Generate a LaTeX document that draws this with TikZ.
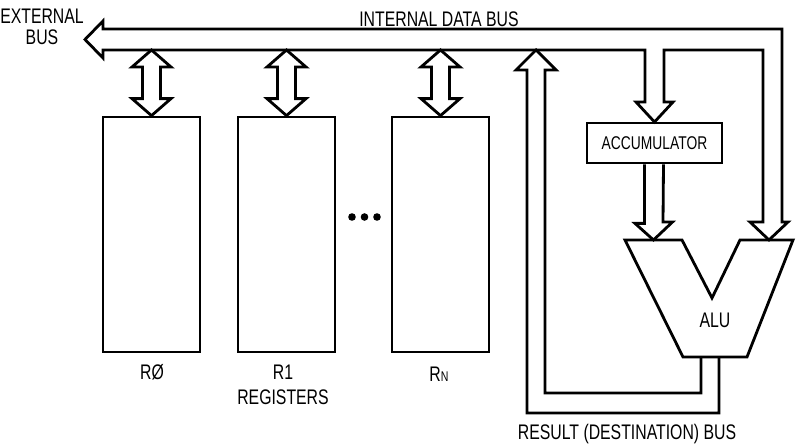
\documentclass[tikz,border=0pt]{standalone}
\usepackage{fontspec}
\setmainfont{Liberation Sans}[FakeStretch=0.75]
\usetikzlibrary{positioning,calc}

\begin{document}
\begin{tikzpicture}[
    x=0.02cm, y=-0.02cm,
    font=\fontsize{12}{13}\selectfont,
    reg/.style={
        draw=black,
        line width=1.6pt,
        minimum width=1.94cm,
        minimum height=4.7cm,
        inner sep=0pt
    },
    accbox/.style={
        draw=black,
        line width=1.6pt,
        minimum width=2.7cm,
        minimum height=0.8cm,
        inner sep=0pt,
        font=\fontsize{10.5}{12}\selectfont
    },
    lbl/.style={inner sep=0pt, align=center},
    bus/.style={draw=black, line width=1.6pt, line join=miter}
]
\useasboundingbox (0,0) rectangle (797,445);

% registers
\node[reg] (r0) at (151.5,234.5) {};
\node[reg] (r1) at (286.5,234.5) {};
\node[reg] (rn) at (440.5,234.5) {};

\node[lbl] (r0lbl) at (152,372) {RØ};
\node[lbl] (r1lbl) at (283,372) {R1};
\node[lbl] (reglbl) at (283,397) {REGISTERS};
\node[lbl] (rnlbl) at (439,374) {R{\footnotesize N}};

\foreach \d in {352,364.5,377}
    \fill (\d,217) circle (3.8);

% internal data bus
\coordinate (busbot) at (0,50);
\draw[bus] (85,39.5) -- (103,21) -- (103,29) -- (782,29) -- (782,222)
    -- (788,222) -- (769,240) -- (750,222) -- (763,222) -- (763,50)
    -- (664,50) -- (664,102) -- (673,102) -- (654.5,122) -- (636,102)
    -- (645,102) -- (645,50) -- (103,50) -- (103,58) -- cycle;

% bus <-> registers
\foreach \r in {r0,r1,rn} {
    \coordinate (\r top) at (\r.north |- busbot);
    \draw[bus] (\r top) -- ++(19.5,17) -- ++(-10.5,0)
        -- ($(\r.north)+(9,-17)$) -- ++(10.5,0) -- (\r.north)
        -- ++(-19.5,-17) -- ++(10.5,0) -- ($(\r top)+(-9,17)$)
        -- ++(-10.5,0) -- cycle;
}

% accumulator
\node[accbox] (acc) at (654.5,143) {ACCUMULATOR};

% ALU
\draw[bus] (625,240) -- (682,240) -- (712,298) -- (740,240) -- (793,240)
    -- (747,357) -- (683,357) -- cycle;
\node[lbl] (alu) at (715,320) {ALU};
\coordinate (aluin) at (653.5,240);

\draw[bus] ($(acc.south)+(-10,0)$) -- ++(0,59) -- ++(-9.5,0) -- (aluin)
    -- ++(19,-18) -- ++(-9.5,0) -- ($(acc.south)+(9,0)$);

% result (destination) bus
\coordinate (restip) at (536,50);
\draw[bus] (701,357) -- (701,393) -- (545,393) -- (545,70) -- (556,70)
    -- (restip) -- (516,70) -- (527,70) -- (527,413) -- (719,413) -- (719,357);

% labels
\node[lbl] (extlbl) at (42,27) {EXTERNAL\\[-1pt]BUS};
\node[lbl] (intlbl) at (439,19) {INTERNAL DATA BUS};
\node[lbl] (reslbl) at (627,434) {RESULT (DESTINATION) BUS};

\end{tikzpicture}
\end{document}
